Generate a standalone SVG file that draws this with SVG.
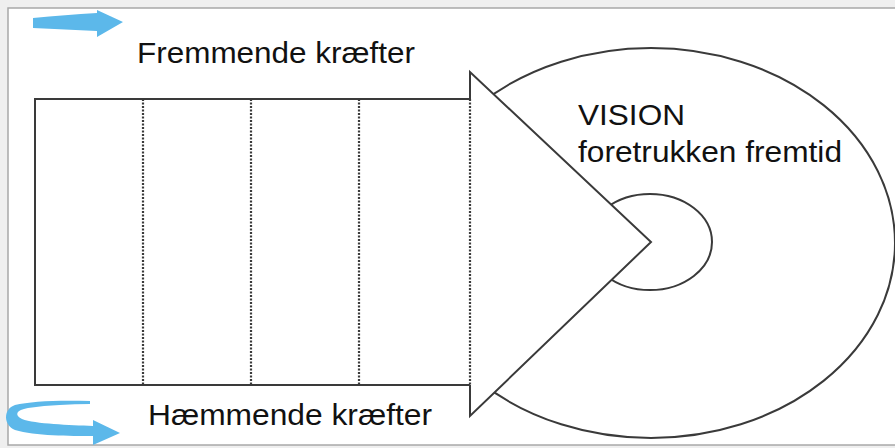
<svg xmlns="http://www.w3.org/2000/svg" width="895" height="448" viewBox="0 0 895 448">
<style>
.ln{fill:none;stroke:#3a3a3a;stroke-width:2}
.dot{fill:none;stroke:#3a3a3a;stroke-width:2.2;stroke-dasharray:2 1.5}
.txt{font-family:"Liberation Sans",Arial,sans-serif;font-size:29px;fill:#111}
.blue{fill:#5cb8ea}
</style>
<rect x="0" y="0" width="895" height="448" fill="#efefef"/>
<rect x="8" y="8" width="900" height="437" fill="#ffffff" stroke="#a8a8a8" stroke-width="1.5"/>
<g id="vision">
<ellipse cx="651" cy="243" rx="244" ry="195" class="ln" fill="#fff"/>
<ellipse cx="650" cy="242" rx="62" ry="48" class="ln" fill="#fff"/>
</g>
<g id="arrowhead">
<polygon points="470,72 651,242 470,416" fill="#fff"/>
<path d="M470,99 V72 L651,242 L470,416 V385" class="ln"/>
</g>
<g id="field">
<rect x="35" y="99" width="435" height="286" fill="#fff"/>
<path d="M470,99 H35 V385 H470" class="ln"/>
<path d="M143,99 V385 M251,99 V385 M359,99 V385 M470,99 V385" class="dot"/>
</g>
<g id="labels">
<text class="txt" x="137" y="63" textLength="278" lengthAdjust="spacingAndGlyphs">Fremmende kræfter</text>
<text class="txt" x="148" y="425" textLength="284" lengthAdjust="spacingAndGlyphs">Hæmmende kræfter</text>
<text class="txt" x="578" y="125" textLength="107" lengthAdjust="spacingAndGlyphs">VISION</text>
<text class="txt" x="578" y="162" textLength="264" lengthAdjust="spacingAndGlyphs">foretrukken fremtid</text>
</g>
<g id="connectors">
<path class="blue" d="M33,18 C55,16 75,14 97,13 L97,10 L123,22 L97,37 L97,31 C75,30 55,29 33,28 Z"/>
<path class="blue" d="M90,401 C60,400 30,401 15,405 C3,409 3,425 15,430 C35,436 70,436 93,436 L93,445 L120,433 L93,420 L93,426 C70,425 35,424 22,419 C14,415 16,410 28,408 C50,405 70,404 90,404 Z"/>
</g>
</svg>
